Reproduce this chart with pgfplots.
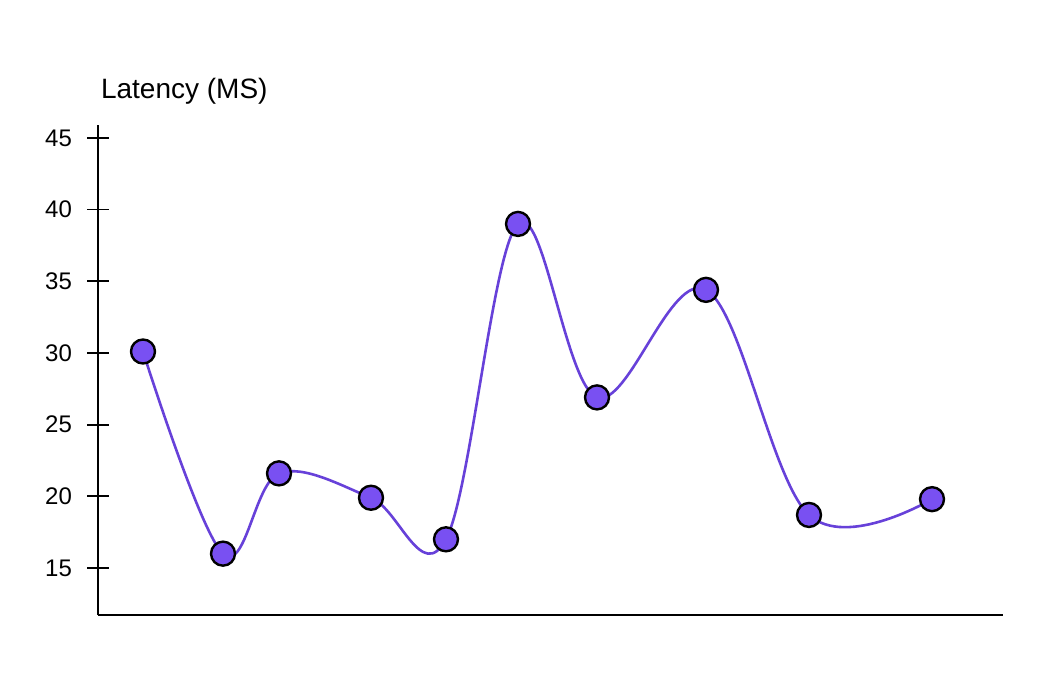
\documentclass[border=0pt]{standalone}
\usepackage{pgfplots}
\pgfplotsset{compat=1.18}
\usepackage{fontspec}
\setmainfont{Liberation Sans}
\definecolor{linepurple}{HTML}{6741D9}
\definecolor{markpurple}{HTML}{7950F2}
\begin{document}
\begin{tikzpicture}
\useasboundingbox (-49pt,-33.5pt) rectangle (478pt,307.5pt);
\begin{axis}[
  at={(0,0)}, anchor=south west,
  scale only axis, width=452.5pt, height=245pt,
  xmin=98, xmax=1003, ymin=11.72, ymax=45.9,
  axis x line=bottom, axis y line=left,
  axis line style={-, line width=1pt},
  xtick=\empty, ytick={15,20,...,45},
  tick align=center, major tick length=11pt,
  tick style={line width=0.9pt, black},
  yticklabel style={font=\fontsize{12}{14}\selectfont, xshift=-4pt},
  /pgf/number format/assume math mode=true,
  clip=false,
]
\addplot[smooth, tension=0.6, draw=linepurple, line width=1.3pt,
  mark=*, mark size=6pt,
  mark options={fill=markpurple, draw=black, line width=1.2pt}]
  coordinates {
    (143,30.1) (223,16.0) (279,21.6) (371,19.9) (446,17.0)
    (518,39.0) (597,26.9) (706,34.4) (809,18.7) (932,19.8)
  };
\node[anchor=base west, font=\fontsize{14}{16}\selectfont]
  at (rel axis cs:0,1) [yshift=13pt, xshift=-2pt] {Latency (MS)};
\end{axis}
\end{tikzpicture}
\end{document}
